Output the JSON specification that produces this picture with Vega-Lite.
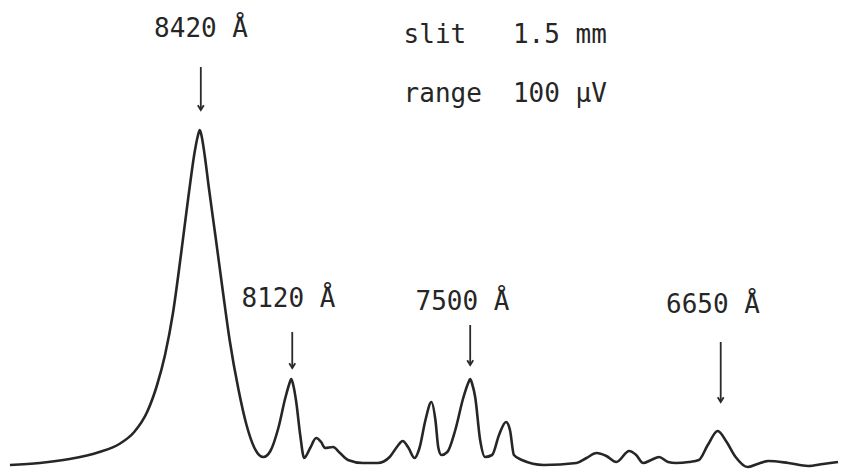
{
  "$schema": "https://vega.github.io/schema/vega-lite/v6.json",
  "width": 844,
  "height": 474,
  "padding": 0,
  "autosize": {"type": "fit", "contains": "padding"},
  "background": "white",
  "config": {"view": {"stroke": null}},
  "datasets": {
    "curve": [
      {"pos": 10, "signal": 9}, {"pos": 40, "signal": 11}, {"pos": 70, "signal": 15}, {"pos": 100, "signal": 22},
      {"pos": 120, "signal": 30}, {"pos": 135, "signal": 42}, {"pos": 148, "signal": 62}, {"pos": 158, "signal": 89},
      {"pos": 166, "signal": 119}, {"pos": 174, "signal": 161}, {"pos": 182, "signal": 219}, {"pos": 190, "signal": 281},
      {"pos": 196, "signal": 323}, {"pos": 199, "signal": 338}, {"pos": 201, "signal": 344}, {"pos": 203, "signal": 337},
      {"pos": 206, "signal": 318}, {"pos": 210, "signal": 287},
      {"pos": 217, "signal": 236}, {"pos": 224, "signal": 184}, {"pos": 231, "signal": 134}, {"pos": 240, "signal": 84},
      {"pos": 248, "signal": 49}, {"pos": 256, "signal": 26}, {"pos": 265, "signal": 17}, {"pos": 272, "signal": 23},
      {"pos": 280, "signal": 46}, {"pos": 287, "signal": 76}, {"pos": 291, "signal": 90}, {"pos": 293, "signal": 95}, {"pos": 295, "signal": 89}, {"pos": 298, "signal": 72},
      {"pos": 302, "signal": 39}, {"pos": 306, "signal": 16}, {"pos": 312, "signal": 26}, {"pos": 318, "signal": 36},
      {"pos": 323, "signal": 32}, {"pos": 327, "signal": 26}, {"pos": 335, "signal": 27}, {"pos": 342, "signal": 21},
      {"pos": 350, "signal": 14}, {"pos": 365, "signal": 11}, {"pos": 380, "signal": 11}, {"pos": 392, "signal": 17},
      {"pos": 400, "signal": 28}, {"pos": 405, "signal": 33}, {"pos": 411, "signal": 26}, {"pos": 417, "signal": 16},
      {"pos": 422, "signal": 26}, {"pos": 428, "signal": 54}, {"pos": 434, "signal": 72}, {"pos": 438, "signal": 54},
      {"pos": 441, "signal": 26}, {"pos": 444, "signal": 19}, {"pos": 450, "signal": 22}, {"pos": 458, "signal": 44},
      {"pos": 466, "signal": 76}, {"pos": 471, "signal": 91}, {"pos": 473, "signal": 95}, {"pos": 475, "signal": 90}, {"pos": 478, "signal": 77}, {"pos": 483, "signal": 34},
      {"pos": 488, "signal": 17}, {"pos": 495, "signal": 19}, {"pos": 502, "signal": 39}, {"pos": 509, "signal": 52},
      {"pos": 513, "signal": 44}, {"pos": 517, "signal": 19}, {"pos": 525, "signal": 14}, {"pos": 547, "signal": 9},
      {"pos": 580, "signal": 11}, {"pos": 590, "signal": 16}, {"pos": 600, "signal": 21}, {"pos": 610, "signal": 18},
      {"pos": 620, "signal": 12}, {"pos": 633, "signal": 23}, {"pos": 640, "signal": 19}, {"pos": 647, "signal": 11},
      {"pos": 655, "signal": 14}, {"pos": 663, "signal": 17}, {"pos": 672, "signal": 12}, {"pos": 680, "signal": 11},
      {"pos": 693, "signal": 12}, {"pos": 703, "signal": 14}, {"pos": 712, "signal": 29}, {"pos": 722, "signal": 43},
      {"pos": 731, "signal": 32}, {"pos": 740, "signal": 17}, {"pos": 752, "signal": 7}, {"pos": 762, "signal": 10},
      {"pos": 773, "signal": 13}, {"pos": 793, "signal": 11}, {"pos": 813, "signal": 8}, {"pos": 828, "signal": 10},
      {"pos": 843, "signal": 12}
    ],
    "labels": [
      {"text": "8420 Å", "pos": 155, "signal": 437},
      {"text": "slit", "pos": 406, "signal": 431},
      {"text": "1.5 mm", "pos": 516, "signal": 431},
      {"text": "range", "pos": 406, "signal": 372},
      {"text": "100 µV", "pos": 516, "signal": 372},
      {"text": "8120 Å", "pos": 243, "signal": 167},
      {"text": "7500 Å", "pos": 418, "signal": 164},
      {"text": "6650 Å", "pos": 670, "signal": 161}
    ],
    "arrows": [
      {"pos": 202, "top": 407, "tip": 364},
      {"pos": 294, "top": 142, "tip": 106},
      {"pos": 473, "top": 149, "tip": 109},
      {"pos": 725, "top": 132, "tip": 72}
    ]
  },
  "layer": [
    {
      "data": {"name": "curve"},
      "mark": {"type": "line", "interpolate": "monotone", "stroke": "#262626", "strokeWidth": 2.6},
      "encoding": {
        "x": {"field": "pos", "type": "quantitative", "scale": {"domain": [0, 844], "nice": false, "zero": false}, "axis": null},
        "y": {"field": "signal", "type": "quantitative", "scale": {"domain": [0, 474], "nice": false, "zero": false}, "axis": null}
      }
    },
    {
      "data": {"name": "labels"},
      "mark": {"type": "text", "align": "left", "baseline": "alphabetic", "font": "DejaVu Sans Mono", "fontSize": 26, "fill": "#262626"},
      "encoding": {
        "x": {"field": "pos", "type": "quantitative"},
        "y": {"field": "signal", "type": "quantitative"},
        "text": {"field": "text"}
      }
    },
    {
      "data": {"name": "arrows"},
      "mark": {"type": "rule", "stroke": "#2a2a2a", "strokeWidth": 1.8},
      "encoding": {
        "x": {"field": "pos", "type": "quantitative"},
        "y": {"field": "top", "type": "quantitative"},
        "y2": {"field": "tip"}
      }
    },
    {
      "data": {"name": "arrows"},
      "mark": {"type": "point", "shape": "M-1,-1.6L0,0L1,-1.6", "filled": false, "stroke": "#2a2a2a", "strokeWidth": 1.8, "size": 36, "opacity": 1},
      "encoding": {
        "x": {"field": "pos", "type": "quantitative"},
        "y": {"field": "tip", "type": "quantitative"}
      }
    }
  ]
}
